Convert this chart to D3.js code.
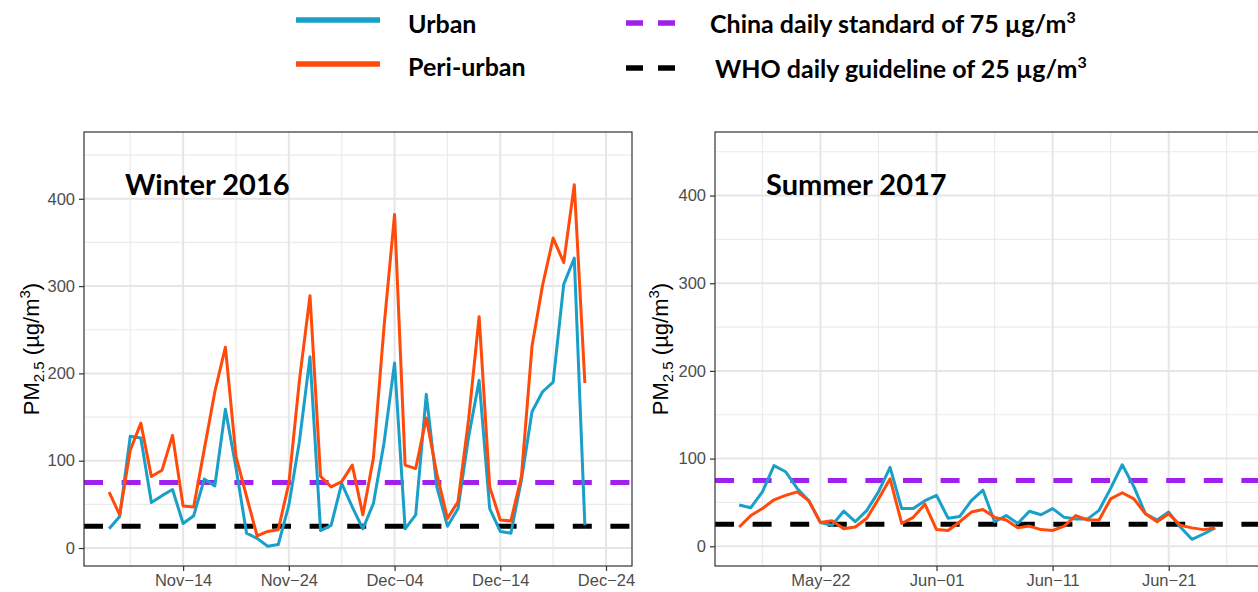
<!DOCTYPE html>
<html>
<head>
<meta charset="utf-8">
<script src="https://cdnjs.cloudflare.com/ajax/libs/d3/7.8.5/d3.min.js"></script>
<style>
  body { margin: 0; background: #fff; }
  svg { display: block; }
</style>
</head>
<body>
<div id="chart"></div>
<script>
// daily PM2.5
var winterStart = "2016-11-07";
var winterUrban = [22, 36, 128, 126, 52, 60, 67, 28, 37, 79, 71, 159, 92, 17, 11, 2, 4, 49, 122, 219,
  20, 26, 74, 47, 22, 51, 120, 212, 22, 38, 176, 70, 25, 45, 127, 192, 45, 19, 17, 78,
  156, 179, 190, 302, 332, 26];
var winterPeri = [64, 38, 112, 143, 82, 89, 129, 48, 47, 113, 179, 230, 105, 59, 14, 19, 21, 74, 192, 289,
  82, 70, 76, 95, 38, 103, 253, 382, 95, 91, 149, 85, 34, 53, 147, 265, 70, 32, 31, 82,
  231, 301, 355, 327, 416, 189];

var summerStart = "2017-05-15";
var summerUrban = [47, 44, 62, 92, 85, 66, 52, 27, 24, 40, 28, 41, 62, 90, 43, 43, 52, 58, 32, 34,
  52, 64, 28, 35, 26, 40, 36, 43, 33, 31, 31, 41, 66, 93, 68, 37, 30, 39, 22, 8,
  14, 21];
var summerPeri = [22, 35, 43, 53, 58, 62, 52, 27, 29, 20, 22, 32, 54, 77, 26, 33, 48, 19, 18, 28,
  39, 42, 33, 30, 21, 23, 19, 18, 23, 35, 30, 30, 54, 61, 54, 37, 28, 37, 24, 21,
  19, 21];

var winterTicks = ["2016-11-14", "2016-11-24", "2016-12-04", "2016-12-14", "2016-12-24"];
var winterMinor = ["2016-11-09", "2016-11-19", "2016-11-29", "2016-12-09", "2016-12-19", "2016-12-29"];
var summerTicks = ["2017-05-22", "2017-06-01", "2017-06-11", "2017-06-21"];
var summerGrid = ["2017-05-22", "2017-06-01", "2017-06-11", "2017-06-21", "2017-07-01"];
var summerMinor = ["2017-05-17", "2017-05-27", "2017-06-06", "2017-06-16", "2017-06-26"];

var yTicks = [0, 100, 200, 300, 400];
var yMinor = [50, 150, 250, 350, 450];

var chinaStd = 75;
var whoGuide = 25;

var urban_color = "#1a9fc9";
var peri_color = "#ff4a0a";
var china_color = "#a020f0";
var who_color = "#000000";

var parse = d3.timeParse("%Y-%m-%d");
var fmt = d3.timeFormat("%b-%d");

var svg = d3.select("#chart").append("svg")
  .attr("width", 1258)
  .attr("height", 592);

// legend up top
function legendLine(x1, x2, y, color, dashed) {
  var l = svg.append("line")
    .attr("x1", x1).attr("x2", x2)
    .attr("y1", y).attr("y2", y)
    .attr("stroke", color)
    .attr("stroke-width", 5.5);
  if (dashed) l.attr("stroke-dasharray", "17,15");
}
function legendText(x, y, txt, sup) {
  var t = svg.append("text")
    .attr("x", x).attr("y", y)
    .attr("font-family", "Lato, 'Open Sans', sans-serif")
    .attr("font-weight", 700)
    .attr("font-size", 25)
    .attr("fill", "#000")
    .text(txt);
  if (sup) {
    t.append("tspan").attr("font-size", 16).attr("dy", -10).text(sup);
  }
}
legendLine(296, 380, 20, urban_color, false);
legendLine(296, 380, 64, peri_color, false);
legendLine(626, 676, 23, china_color, true);
legendLine(626, 676, 68, who_color, true);
legendText(408, 33, "Urban");
legendText(408, 76, "Peri-urban");
legendText(710, 33, "China daily standard of " + chinaStd + " \u00b5g/m", "3");
legendText(715, 78, "WHO daily guideline of " + whoGuide + " \u00b5g/m", "3");

function panel(opt) {
  var dates = d3.timeDay.range(parse(opt.start), d3.timeDay.offset(parse(opt.start), opt.urban.length));
  var first = dates[0], last = dates[dates.length - 1];

  var x = d3.scaleTime()
    .domain([d3.timeHour.offset(first, -opt.padL), d3.timeHour.offset(last, opt.padR)])
    .range([opt.left, opt.right]);
  var y = d3.scaleLinear()
    .domain(opt.ydom)
    .range([opt.bottom, opt.top]);

  var clipId = "clip-" + opt.name;
  svg.append("clipPath").attr("id", clipId)
    .append("rect")
    .attr("x", opt.left).attr("y", opt.top)
    .attr("width", opt.right - opt.left)
    .attr("height", opt.bottom - opt.top);

  var g = svg.append("g");
  var inner = g.append("g").attr("clip-path", "url(#" + clipId + ")");

  // grid, minor first
  inner.selectAll(".ymin").data(yMinor).enter().append("line")
    .attr("x1", opt.left).attr("x2", opt.right)
    .attr("y1", function (d) { return y(d); }).attr("y2", function (d) { return y(d); })
    .attr("stroke", "#ebebeb").attr("stroke-width", 1.2);
  inner.selectAll(".xmin").data(opt.minor.map(parse)).enter().append("line")
    .attr("x1", function (d) { return x(d); }).attr("x2", function (d) { return x(d); })
    .attr("y1", opt.top).attr("y2", opt.bottom)
    .attr("stroke", "#ebebeb").attr("stroke-width", 1.2);
  inner.selectAll(".ymaj").data(yTicks).enter().append("line")
    .attr("x1", opt.left).attr("x2", opt.right)
    .attr("y1", function (d) { return y(d); }).attr("y2", function (d) { return y(d); })
    .attr("stroke", "#e6e6e6").attr("stroke-width", 2);
  inner.selectAll(".xmaj").data(opt.grid.map(parse)).enter().append("line")
    .attr("x1", function (d) { return x(d); }).attr("x2", function (d) { return x(d); })
    .attr("y1", opt.top).attr("y2", opt.bottom)
    .attr("stroke", "#e6e6e6").attr("stroke-width", 2);

  // reference lines
  [[chinaStd, china_color], [whoGuide, who_color]].forEach(function (r) {
    inner.append("line")
      .attr("x1", opt.left).attr("x2", opt.right + 40)
      .attr("y1", y(r[0])).attr("y2", y(r[0]))
      .attr("stroke", r[1])
      .attr("stroke-width", 5)
      .attr("stroke-dasharray", "19,18.6");
  });

  var line = d3.line()
    .x(function (d, i) { return x(dates[i]); })
    .y(function (d) { return y(d); });

  inner.append("path").datum(opt.urban)
    .attr("d", line)
    .attr("fill", "none")
    .attr("stroke", urban_color)
    .attr("stroke-width", 3)
    .attr("stroke-linejoin", "round");
  inner.append("path").datum(opt.peri)
    .attr("d", line)
    .attr("fill", "none")
    .attr("stroke", peri_color)
    .attr("stroke-width", 3)
    .attr("stroke-linejoin", "round");

  // border
  g.append("rect")
    .attr("x", opt.left).attr("y", opt.top)
    .attr("width", opt.right - opt.left)
    .attr("height", opt.bottom - opt.top)
    .attr("fill", "none")
    .attr("stroke", "#333")
    .attr("stroke-width", 1.2);

  // axes
  var xAxis = d3.axisBottom(x)
    .tickValues(opt.ticks.map(parse))
    .tickSize(5)
    .tickPadding(3)
    .tickFormat(function (d) { return fmt(d).replace("-", "\u2212"); });
  var xa = g.append("g")
    .attr("transform", "translate(0," + opt.bottom + ")")
    .call(xAxis);

  var yAxis = d3.axisLeft(y)
    .tickValues(yTicks)
    .tickSize(5)
    .tickPadding(4);
  var ya = g.append("g")
    .attr("transform", "translate(" + opt.left + ",0)")
    .call(yAxis);

  [xa, ya].forEach(function (a) {
    a.select(".domain").remove();
    a.selectAll("line").attr("stroke", "#333").attr("stroke-width", 1.2);
    a.selectAll("text")
      .attr("fill", "#4d4d4d")
      .attr("font-family", "'Liberation Sans', Arial, sans-serif")
      .attr("font-size", 16.5);
  });

  // y title
  var t = g.append("text")
    .attr("transform", "translate(" + opt.titleX + "," + ((opt.top + opt.bottom) / 2) + ") rotate(-90)")
    .attr("text-anchor", "middle")
    .attr("font-family", "'Liberation Sans', Arial, sans-serif")
    .attr("font-size", 22)
    .attr("fill", "#000");
  t.append("tspan").text("PM");
  t.append("tspan").attr("font-size", 15).attr("dy", 5).text("2.5");
  t.append("tspan").attr("dy", -5).text(" (\u00b5g/m");
  t.append("tspan").attr("font-size", 15).attr("dy", -9).text("3");
  t.append("tspan").attr("dy", 9).text(")");

  // season label
  g.append("text")
    .attr("x", opt.labelX).attr("y", 195)
    .attr("font-family", "Lato, 'Open Sans', sans-serif")
    .attr("font-weight", 700)
    .attr("font-size", 29)
    .attr("fill", "#000")
    .text(opt.label);
}

panel({
  name: "winter", label: "Winter 2016", labelX: 125,
  start: winterStart, urban: winterUrban, peri: winterPeri,
  ticks: winterTicks, grid: winterTicks, minor: winterMinor,
  left: 84, right: 632, top: 132, bottom: 566,
  padL: 57, padR: 107,
  ydom: [-20.6, 476.5], titleX: 39
});

panel({
  name: "summer", label: "Summer 2017", labelX: 766,
  start: summerStart, urban: summerUrban, peri: summerPeri,
  ticks: summerTicks, grid: summerGrid, minor: summerMinor,
  left: 715, right: 1263, top: 132, bottom: 566,
  padL: 50, padR: 99,
  ydom: [-22.5, 472.5], titleX: 668
});
</script>
</body>
</html>
